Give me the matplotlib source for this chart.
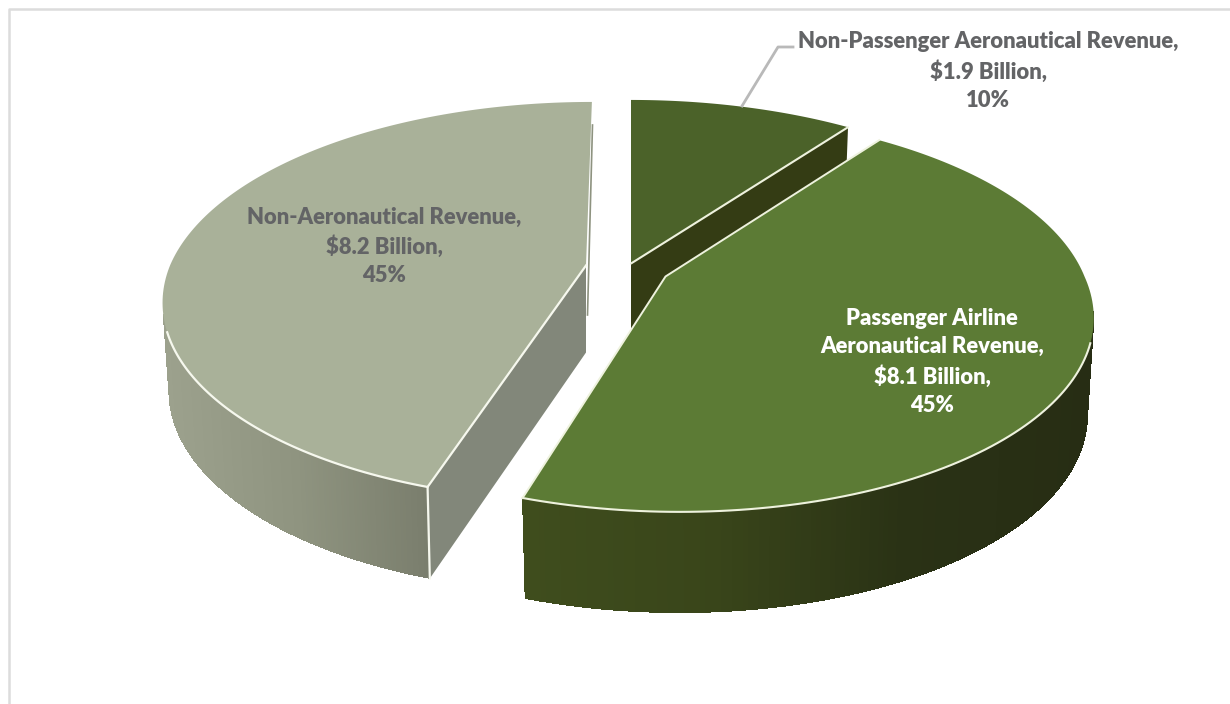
import numpy as np
import matplotlib
matplotlib.use('Agg')
import matplotlib.pyplot as plt
from matplotlib.collections import PolyCollection
from matplotlib.colors import LinearSegmentedColormap
from matplotlib.patches import Polygon

names = ['Non-Passenger Aeronautical Revenue', 'Passenger Airline\nAeronautical Revenue', 'Non-Aeronautical Revenue']
billions = ['$1.9', '$8.1', '$8.2']
shares = [10, 45, 45]

# pie geometry, in pixels. Each exploded slice gets its own centre and lean
RY = 193.0
PERSP = 0.18
BOTTOM_KX, BOTTOM_KY = 0.985, 1.02
GEO1 = dict(cx=631.0, cy=263.5, rx=423.0, depth=88.0, shear=(0.0, 0.0))
GEO2 = dict(cx=665.5, cy=276.5, rx=419.0, depth=96.0, shear=(0.01, 0.06))
GEO3 = dict(cx=586.0, cy=265.5, rx=416.0, depth=87.0, shear=(-0.036, -0.015))
LINE = '#eef2de'
GREY = '#636466'


def project(theta, geo, low=False):
    theta = np.radians(theta)
    s = 1.0 / (1.0 + PERSP * np.cos(theta))
    kx, ky = (BOTTOM_KX, BOTTOM_KY) if low else (1.0, 1.0)
    dx = geo['rx'] * np.sin(theta) * s * kx
    dy = -RY * np.cos(theta) * s * ky
    x = geo['cx'] + dx + np.where(dy < 0, geo['shear'][0], geo['shear'][1]) * dy
    y = geo['cy'] + dy + (geo['depth'] if low else 0.0)
    return np.column_stack([x, y])


def point(theta, geo, low=False):
    return project(np.array([theta]), geo, low)[0]


def side_wall(ax, th0, th1, geo, colors):
    # outer wall as thin quads so the shading runs along x
    th = np.linspace(th0, th1, 161)
    top = project(th, geo)
    bot = project(th, geo, low=True)
    cmap = LinearSegmentedColormap.from_list('wall', colors)
    # soft silhouette underneath the hard edged quads
    ax.add_patch(Polygon(np.vstack([top, bot[::-1]]), fc=colors[len(colors) // 2], ec='none'))
    quads = [[top[i], top[i + 1], bot[i + 1], bot[i]] for i in range(len(th) - 1)]
    mid = (top[:-1, 0] + top[1:, 0]) / 2
    c = cmap((mid - mid.min()) / (mid.max() - mid.min()))
    ax.add_collection(PolyCollection(quads, facecolors=c, edgecolors='none', antialiased=False))


edges = np.cumsum([0] + shares) * 3.6

fig = plt.figure(figsize=(12.3, 7.04), dpi=100)
ax = fig.add_axes([0, 0, 1, 1])
ax.set_xlim(0, 1230)
ax.set_ylim(704, 0)
ax.axis('off')

# chart border, only the top and left sides fall inside the canvas
ax.plot([8.5, 8.5, 1230], [704, 9, 9], color='#dcdcdc', lw=1.8)

# small slice, its cut face sits behind the big green one
apex1 = (GEO1['cx'], GEO1['cy'])
end1 = point(edges[1], GEO1)
ax.add_patch(Polygon([apex1, end1, point(edges[1], GEO1, True), (apex1[0], apex1[1] + GEO1['depth'])],
                     fc='#343c14', ec='none'))
arc1 = project(np.linspace(edges[0], edges[1], 60), GEO1)
ax.add_patch(Polygon(np.vstack([[apex1], arc1]), fc='#4b6229', ec='none'))
ax.plot([apex1[0], end1[0]], [apex1[1], end1[1]], color=LINE, lw=1.5, solid_capstyle='round')

# grey slice
apex3 = (GEO3['cx'], GEO3['cy'])
front3 = point(edges[2], GEO3)
front3b = point(edges[2], GEO3, True)
ax.plot([592.5, 587.5], [125, 315], color='#8e9380', lw=1.2)
side_wall(ax, edges[2], 256, GEO3, ['#9ca18d', '#8f9480', '#7a7e6d'])
ax.add_patch(Polygon([apex3, front3, front3b, (apex3[0], apex3[1] + GEO3['depth'])], fc='#82877a', ec='none'))
ax.add_patch(Polygon(np.vstack([[apex3], project(np.linspace(edges[2], edges[3], 160), GEO3)]),
                     fc='#a9b199', ec='none'))
edge3 = project(np.linspace(edges[2], 251, 60), GEO3)
ax.plot(edge3[:, 0], edge3[:, 1], color='#f6f8ee', lw=1.6)
ax.plot([apex3[0], front3[0], front3b[0]], [apex3[1], front3[1], front3b[1]], color='#f6f8ee', lw=1.6)

# large green slice
apex2 = (GEO2['cx'], GEO2['cy'])
side_wall(ax, 100, edges[2], GEO2, ['#3f4d1d', '#39451a', '#2a3215', '#272d14'])
ax.add_patch(Polygon(np.vstack([[apex2], project(np.linspace(edges[1], edges[2], 160), GEO2)]),
                     fc='#5c7b35', ec='none'))
edge2 = project(np.linspace(edges[2], 109, 80), GEO2)
ax.plot(edge2[:, 0], edge2[:, 1], color=LINE, lw=1.5)
start2 = point(edges[1], GEO2)
front2 = point(edges[2], GEO2)
ax.plot([start2[0], apex2[0], front2[0]], [start2[1], apex2[1], front2[1]], color=LINE, lw=1.4)

# data labels
font = dict(family='Lato', fontweight='heavy', fontsize=15.85, ha='center', va='center', linespacing=1.42)


def label(i):
    return f'{names[i]},\n{billions[i]} Billion,\n{shares[i]}%'


ax.text(988, 71, label(0), color=GREY, **font)
ax.text(384, 246.5, label(2), color=GREY, **font)
ax.text(932, 362, label(1), color='white', **font)

# leader line for the small slice
ax.plot([742, 778, 793], [106, 47, 47], color='#b9b9b9', lw=2)

fig.savefig('out.png', dpi=100)
